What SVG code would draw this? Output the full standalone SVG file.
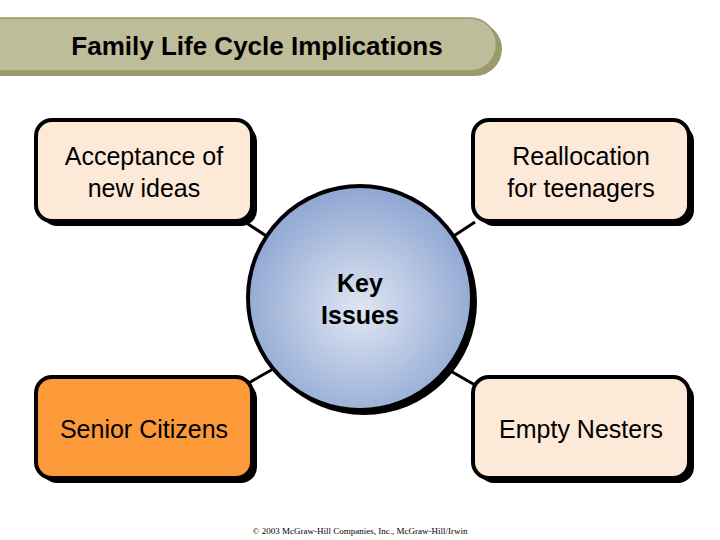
<svg xmlns="http://www.w3.org/2000/svg" width="720" height="540" viewBox="0 0 720 540">
<defs>
<radialGradient id="g" cx="0.5" cy="0.55" r="0.55"><stop offset="0" stop-color="#dfe6f2"/><stop offset="1" stop-color="#8ea6d2"/></radialGradient>
<style>
.box{stroke:#000;stroke-width:4}
.sh{fill:#000}
.t{font-family:"Liberation Sans",Arial,sans-serif;font-size:25px;text-anchor:middle;fill:#000}
.c{stroke:#000;stroke-width:3}
</style>
</defs>
<rect width="720" height="540" fill="#fff"/>
<g id="title">
<path d="M-5 22 H475 A26 26 0 0 1 475 76 H-5 Z" fill="#9a9a6a"/>
<path d="M-5 18 H470 A26 26 0 0 1 470 71 H-5 Z" fill="#bdbd99" stroke="#9a9a6a" stroke-width="1.5"/>
<text x="257" y="55" font-family="Liberation Sans,Arial,sans-serif" font-size="26" font-weight="bold" text-anchor="middle">Family Life Cycle Implications</text>
</g>
<g id="connectors">
<line class="c" x1="245" y1="222" x2="280" y2="245"/>
<line class="c" x1="475" y1="222" x2="440" y2="245"/>
<line class="c" x1="245" y1="385" x2="280" y2="365"/>
<line class="c" x1="475" y1="385" x2="440" y2="365"/>
</g>
<g id="key">
<circle cx="364" cy="302" r="113" fill="#000"/>
<circle cx="360" cy="298" r="112" fill="url(#g)" stroke="#000" stroke-width="4"/>
<text class="t" x="360" y="292" font-weight="bold">Key</text>
<text class="t" x="360" y="324" font-weight="bold">Issues</text>
</g>
<g id="n1">
<rect class="sh" x="41" y="125" width="216" height="101" rx="16"/>
<rect class="box" x="36" y="120" width="216" height="101" rx="16" fill="#fde9d7"/>
<text class="t" x="144" y="165">Acceptance of</text>
<text class="t" x="144" y="197">new ideas</text>
</g>
<g id="n2">
<rect class="sh" x="478" y="125" width="216" height="101" rx="16"/>
<rect class="box" x="473" y="120" width="216" height="101" rx="16" fill="#fde9d7"/>
<text class="t" x="581" y="165">Reallocation</text>
<text class="t" x="581" y="197">for teenagers</text>
</g>
<g id="n3">
<rect class="sh" x="41" y="382" width="216" height="101" rx="16"/>
<rect class="box" x="36" y="377" width="216" height="101" rx="16" fill="#fc9a3a"/>
<text class="t" x="144" y="438">Senior Citizens</text>
</g>
<g id="n4">
<rect class="sh" x="478" y="382" width="216" height="101" rx="16"/>
<rect class="box" x="473" y="377" width="216" height="101" rx="16" fill="#fde9d7"/>
<text class="t" x="581" y="438">Empty Nesters</text>
</g>
<text x="360" y="534" font-family="Liberation Serif,serif" font-size="9" text-anchor="middle">© 2003 McGraw-Hill Companies, Inc., McGraw-Hill/Irwin</text>
</svg>
